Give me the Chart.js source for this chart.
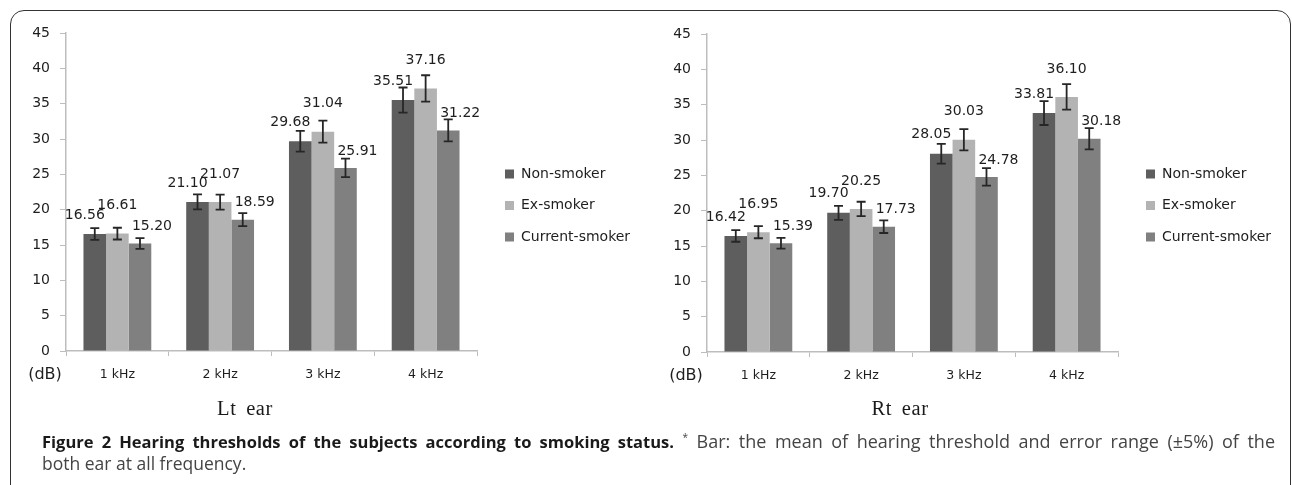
<!DOCTYPE html>
<html>
<head>
<meta charset="utf-8">
<script src="https://cdn.jsdelivr.net/npm/chart.js@4.4.1/dist/chart.umd.min.js"></script>
<style>
  body { margin: 0; background: #fff; width: 1292px; height: 485px; overflow: hidden; position: relative; }
  #frame { position: absolute; left: 10px; top: 10px; width: 1281px; height: 520px; border: 1.6px solid #333; border-radius: 14px; box-sizing: border-box; }
  .wrap { position: absolute; top: 0; width: 646px; height: 430px; }
  .ear { position: absolute; top: 397px; font-family: 'Liberation Serif', serif; font-size: 20.5px; color: #1a1a1a; letter-spacing: 0.6px; word-spacing: 4px; transform: translateX(-50%); }
  #caption { position: absolute; left: 42px; top: 427px; width: 1233px; font-family: 'Open Sans', sans-serif; font-size: 18px; line-height: 21.5px; color: #444; }
  #caption .l1 { white-space: nowrap; text-align: justify; text-align-last: justify; }
  #caption .l2 { font-size: 17.5px; }
  #caption b { color: #1a1a1a; font-size: 16.5px; }
  #caption sup { font-size: 10px; }
</style>
</head>
<body>
<div id="frame"></div>
<div class="wrap" style="left:0"><canvas id="leftChart"></canvas></div>
<div class="wrap" style="left:641px"><canvas id="rightChart"></canvas></div>
<div class="ear" style="left:245px">Lt ear</div>
<div class="ear" style="left:900px">Rt ear</div>
<div id="caption"><div class="l1"><b>Figure 2 Hearing thresholds of the subjects according to smoking status.</b> <sup>*</sup> Bar: the mean of hearing threshold and error range (±5%) of the</div><div class="l2">both ear at all frequency.</div></div>
<script>
// Data
const frequencies = ['1 kHz', '2 kHz', '3 kHz', '4 kHz'];
const groups = ['Non-smoker', 'Ex-smoker', 'Current-smoker'];
const yTicks = [0, 5, 10, 15, 20, 25, 30, 35, 40, 45];

const leftNon = [16.56, 21.10, 29.68, 35.51];
const leftEx = [16.61, 21.07, 31.04, 37.16];
const leftCur = [15.20, 18.59, 25.91, 31.22];
const rightNon = [16.42, 19.70, 28.05, 33.81];
const rightEx = [16.95, 20.25, 30.03, 36.10];
const rightCur = [15.39, 17.73, 24.78, 30.18];

// error range (±5%)
const leftNonErr = [0.83, 1.06, 1.48, 1.78];
const leftExErr = [0.83, 1.05, 1.55, 1.86];
const leftCurErr = [0.76, 0.93, 1.30, 1.56];
const rightNonErr = [0.82, 0.99, 1.40, 1.69];
const rightExErr = [0.85, 1.01, 1.50, 1.81];
const rightCurErr = [0.77, 0.89, 1.24, 1.51];

// Styles
const barColors = ['#5e5e5e', '#b3b3b3', '#808080'];
const labelShift = [{ dx: -10, dy: -19 }, { dx: 0, dy: -28 }, { dx: 12, dy: -17 }];
const textColor = '#1e1e1e';
const axisColor = '#bdbdbd';

// error bars, value labels, legend and unit label
const extrasPlugin = {
    id: 'extras',
    afterDatasetsDraw(chart) {
        const ctx = chart.ctx;
        const yScale = chart.scales.y;
        const area = chart.chartArea;
        ctx.save();
        chart.data.datasets.forEach((ds, i) => {
            const meta = chart.getDatasetMeta(i);
            meta.data.forEach((bar, j) => {
                const v = ds.data[j];
                const e = ds.errors[j];
                const yHi = yScale.getPixelForValue(v + e);
                const yLo = yScale.getPixelForValue(v - e);
                ctx.strokeStyle = '#262626';
                ctx.lineWidth = 1.8;
                ctx.beginPath();
                ctx.moveTo(bar.x, yHi); ctx.lineTo(bar.x, yLo);
                ctx.moveTo(bar.x - 4.5, yHi); ctx.lineTo(bar.x + 4.5, yHi);
                ctx.moveTo(bar.x - 4.5, yLo); ctx.lineTo(bar.x + 4.5, yLo);
                ctx.stroke();

                ctx.fillStyle = textColor;
                ctx.font = '14px "DejaVu Sans"';
                ctx.textAlign = 'center';
                ctx.textBaseline = 'middle';
                ctx.fillText(v.toFixed(2), bar.x + labelShift[i].dx, bar.y + labelShift[i].dy);
            });
        });

        // legend
        ctx.font = '14px "DejaVu Sans"';
        ctx.textAlign = 'left';
        ctx.textBaseline = 'middle';
        chart.data.datasets.forEach((ds, i) => {
            const ly = 174 + i * 31.5;
            const lx = area.right + 28;
            ctx.fillStyle = ds.backgroundColor;
            ctx.fillRect(lx, ly - 4.5, 9, 9);
            ctx.fillStyle = textColor;
            ctx.fillText(ds.label, lx + 16, ly);
        });

        // unit label
        ctx.font = '16px "DejaVu Sans"';
        ctx.textAlign = 'center';
        ctx.fillText('(dB)', area.left - 21, area.bottom + 24);
        ctx.restore();
    }
};

function makeChart(id, non, ex, cur, nonErr, exErr, curErr, topPad) {
    const series = [non, ex, cur];
    const errs = [nonErr, exErr, curErr];
    return new Chart(document.getElementById(id), {
        type: 'bar',
        data: {
            labels: frequencies,
            datasets: groups.map((g, i) => ({
                label: g,
                data: series[i],
                errors: errs[i],
                backgroundColor: barColors[i],
                borderWidth: 0,
                categoryPercentage: 0.66,
                barPercentage: 1.0
            }))
        },
        options: {
            responsive: true,
            maintainAspectRatio: false,
            animation: false,
            layout: { padding: { top: topPad, right: 169, bottom: 0, left: 0 } },
            plugins: {
                legend: { display: false },
                tooltip: { enabled: false }
            },
            scales: {
                x: {
                    grid: {
                        offset: true,
                        drawOnChartArea: false,
                        color: axisColor,
                        tickLength: 5
                    },
                    border: { color: axisColor, width: 1.5 },
                    ticks: {
                        color: textColor,
                        font: { family: 'DejaVu Sans', size: 12.5 },
                        padding: 11
                    },
                    afterFit(scale) { scale.height = 430 - 351 - (topPad - 33); }
                },
                y: {
                    min: 0,
                    max: 45,
                    afterBuildTicks(scale) { scale.ticks = yTicks.map(v => ({ value: v })); },
                    grid: {
                        drawOnChartArea: false,
                        color: axisColor,
                        tickLength: 6
                    },
                    border: { color: axisColor, width: 1.5 },
                    ticks: {
                        color: textColor,
                        font: { family: 'DejaVu Sans', size: 14 },
                        padding: 10
                    },
                    afterFit(scale) { scale.width = 66; }
                }
            }
        },
        plugins: [extrasPlugin]
    });
}

makeChart('leftChart', leftNon, leftEx, leftCur, leftNonErr, leftExErr, leftCurErr, 33);
makeChart('rightChart', rightNon, rightEx, rightCur, rightNonErr, rightExErr, rightCurErr, 34);
</script>
</body>
</html>
